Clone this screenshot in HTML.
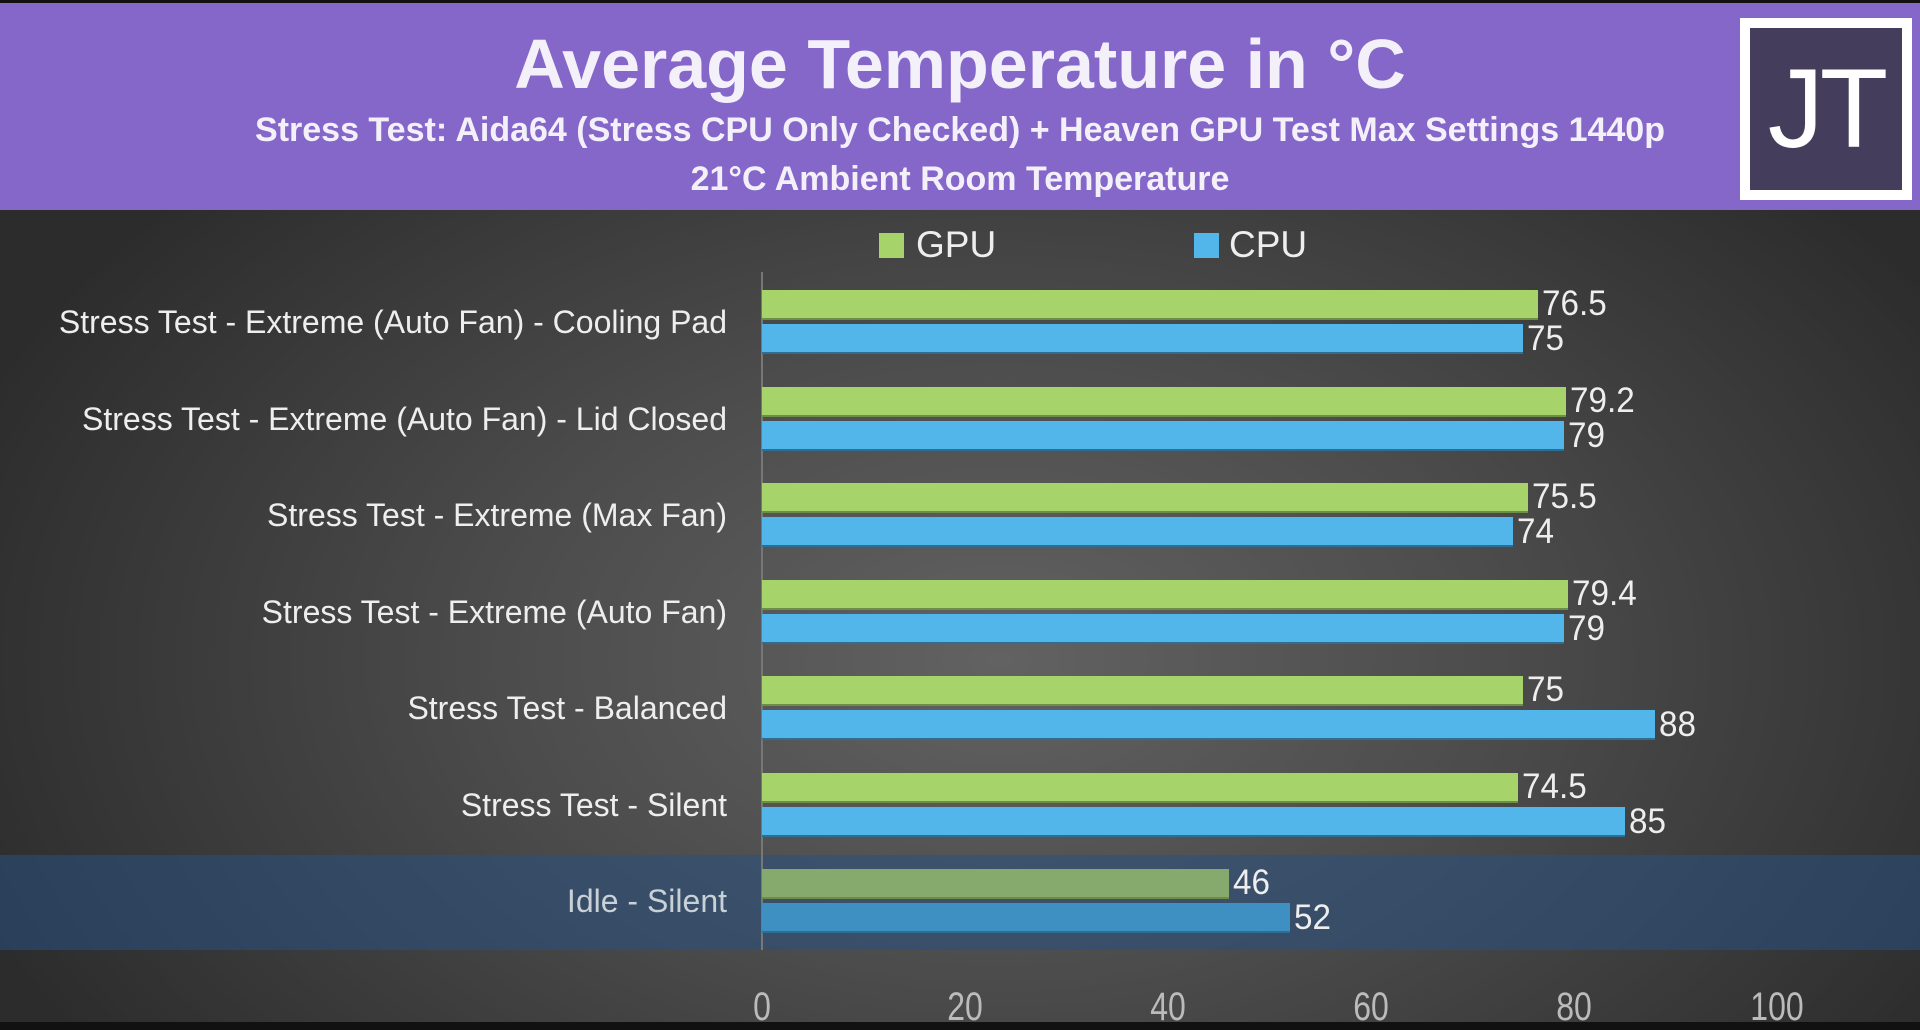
<!DOCTYPE html>
<html><head><meta charset="utf-8"><style>
*{margin:0;padding:0;box-sizing:border-box}
body{width:1920px;height:1022px;overflow:hidden;background:#111;font-family:"Liberation Sans",sans-serif;position:relative}
#bg{position:absolute;left:0;top:210px;width:1920px;height:812px;background:radial-gradient(ellipse 1100px 700px at 1000px 450px,#626262 0%,#4c4c4c 45%,#2c2c2c 100%)}
#hdr{position:absolute;left:0;top:3px;width:1920px;height:207px;background:#8467c9}
.t{position:absolute;left:0;width:1920px;text-align:center;color:#f4f0fa;font-weight:bold}
#logo{position:absolute;left:1740px;top:18px;width:172px;height:182px;background:#fff}
#logo div{position:absolute;left:10px;top:10px;width:152px;height:162px;background:#443e5c;color:#fff;font-size:112px;text-align:center;line-height:162px;letter-spacing:-4px}
.lab{position:absolute;right:1193px;color:#eee;font-size:32px;white-space:nowrap}
.bar{position:absolute;left:762px;height:30px}
.g{background:#a6d46a;border-bottom:2px solid #6d8f44}
.b{background:#52b6ea;border-bottom:2px solid #2d6f94}
.v{position:absolute;color:#eee;font-size:35px;transform:scaleX(0.95);transform-origin:left center;line-height:30px}
.ax{position:absolute;top:985px;color:#bbb;font-size:40px;transform:scaleX(0.8);width:100px;margin-left:-50px;text-align:center}
</style></head><body>
<div id="bg"></div>
<div style="position:absolute;left:0;top:855px;width:1920px;height:95px;background:rgba(40,80,130,0.55)"></div>
<div style="position:absolute;left:761px;top:272px;width:2px;height:678px;background:#777"></div>
<div id="hdr"></div>
<div class="t" style="top:24px;font-size:70px;">Average Temperature in °C</div>
<div class="t" style="top:111px;font-size:34px;">Stress Test: Aida64 (Stress CPU Only Checked) + Heaven GPU Test Max Settings 1440p</div>
<div class="t" style="top:160px;font-size:34px;">21°C Ambient Room Temperature</div>
<div id="logo"><div>JT</div></div>
<div style="position:absolute;left:879px;top:233px;width:25px;height:25px;background:#a6d46a"></div>
<div style="position:absolute;left:916px;top:224px;color:#eee;font-size:37px">GPU</div>
<div style="position:absolute;left:1194px;top:233px;width:25px;height:25px;background:#52b6ea"></div>
<div style="position:absolute;left:1229px;top:224px;color:#eee;font-size:37px">CPU</div>
<div id="rows"></div>
<script>
var d=[["Stress Test - Extreme (Auto Fan) - Cooling Pad","76.5",76.5,"75",75],
["Stress Test - Extreme (Auto Fan) - Lid Closed","79.2",79.2,"79",79],
["Stress Test - Extreme (Max Fan)","75.5",75.5,"74",74],
["Stress Test - Extreme (Auto Fan)","79.4",79.4,"79",79],
["Stress Test - Balanced","75",75,"88",88],
["Stress Test - Silent","74.5",74.5,"85",85],
["Idle - Silent","46",46,"52",52]];
var h="",s=10.15;
d.forEach(function(r,i){var c=322+i*96.5,idle=i==6;
h+='<div class="lab" style="top:'+(c-18)+'px;'+(idle?'color:#c8d0d8':'')+'">'+r[0]+'</div>';
h+='<div class="bar g" style="top:'+(c-32)+'px;width:'+(r[2]*s)+'px;'+(idle?'background:#86aa6e':'')+'"></div>';
h+='<div class="bar b" style="top:'+(c+2)+'px;width:'+(r[4]*s)+'px;'+(idle?'background:#3f90c2':'')+'"></div>';
h+='<div class="v" style="top:'+(c-33)+'px;left:'+(766+r[2]*s)+'px">'+r[1]+'</div>';
h+='<div class="v" style="top:'+(c+2)+'px;left:'+(766+r[4]*s)+'px">'+r[3]+'</div>';});
[0,20,40,60,80,100].forEach(function(t){h+='<div class="ax" style="left:'+(762+t*s)+'px">'+t+'</div>';});
document.getElementById("rows").innerHTML=h;
</script>
</body></html>
